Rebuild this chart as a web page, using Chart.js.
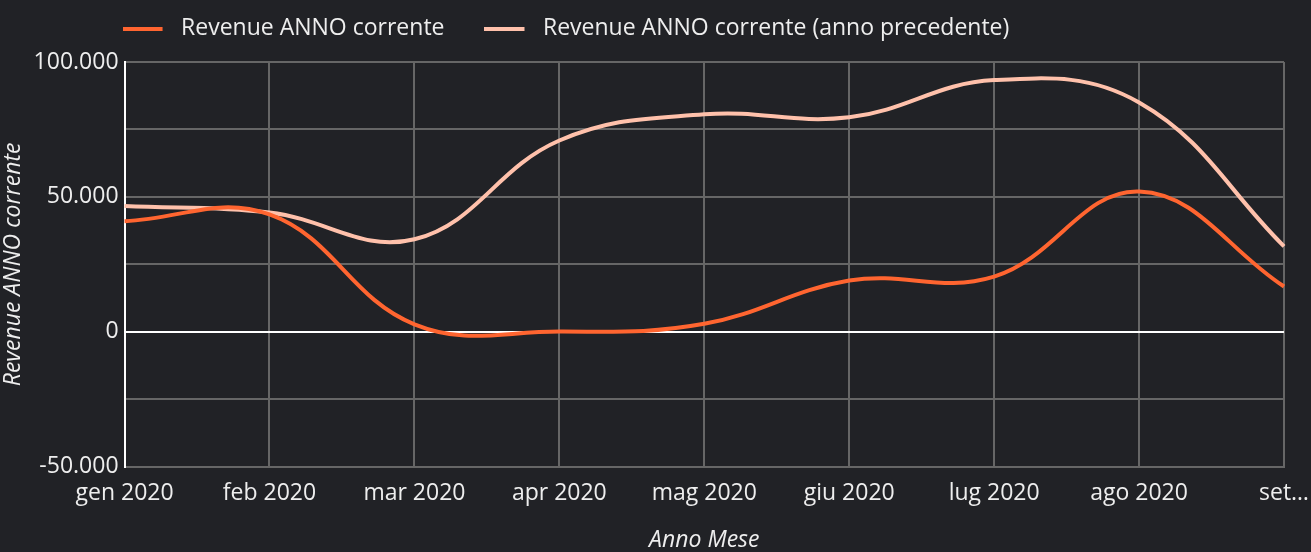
<!DOCTYPE html>
<html>
<head>
<meta charset="utf-8">
<script src="https://cdn.jsdelivr.net/npm/chart.js@4"></script>
<style>
  html, body { margin: 0; padding: 0; background: #212226; }
  #wrap { width: 1311px; height: 552px; position: relative; }
</style>
</head>
<body>
<div id="wrap"><canvas id="c" width="1311" height="552"></canvas></div>
<script>
const months = ["gen 2020", "feb 2020", "mar 2020", "apr 2020", "mag 2020", "giu 2020", "lug 2020", "ago 2020", "set 2020"];
const revenueCurrent = [41000, 43500, 2800, 100, 3000, 19000, 20500, 52000, 16800];
const revenuePrevious = [46600, 44200, 34300, 70900, 80600, 79500, 93300, 85000, 31700];
const seriesNames = ["Revenue ANNO corrente", "Revenue ANNO corrente (anno precedente)"];
const seriesColors = ["#ff6530", "#ffc1ab"];

const FONT = "'Open Sans', 'Noto Sans', sans-serif";
const FS = 23;
const TEXT = "#eeeeee";
const GRID = "#666666";
const LEG_PAD = 40;

function fmt(v) {
  const s = Math.abs(v).toString().replace(/\B(?=(\d{3})+(?!\d))/g, ".");
  return (v < 0 ? "-" : "") + s;
}

function legendLine(color) {
  const c = document.createElement("canvas");
  c.width = 47; c.height = 4;
  const g = c.getContext("2d");
  g.fillStyle = color;
  g.fillRect(0, 0, 40, 4);
  return c;
}

const legendPlace = {
  id: "legendPlace",
  beforeInit(chart) {
    const orig = chart.legend.fit;
    chart.legend.fit = function () {
      orig.call(this);
      this.height = 62;
    };
  },
  afterLayout(chart) {
    const lg = chart.legend;
    lg.left = chart.chartArea.left - 2 - LEG_PAD;
    lg.top = 17 - LEG_PAD;
  }
};

new Chart(document.getElementById("c"), {
  type: "line",
  data: {
    labels: months,
    datasets: [
      { label: seriesNames[0], data: revenueCurrent, borderColor: seriesColors[0], backgroundColor: seriesColors[0], borderWidth: 4, pointRadius: 0, pointStyle: legendLine(seriesColors[0]), tension: 0.4, fill: false },
      { label: seriesNames[1], data: revenuePrevious, borderColor: seriesColors[1], backgroundColor: seriesColors[1], borderWidth: 4, pointRadius: 0, pointStyle: legendLine(seriesColors[1]), tension: 0.4, fill: false }
    ]
  },
  plugins: [legendPlace],
  options: {
    responsive: false,
    animation: false,
    layout: { padding: { left: 0, right: 0, top: 0, bottom: 0 } },
    plugins: {
      legend: {
        position: "top",
        align: "start",
        labels: {
          color: TEXT,
          font: { family: FONT, size: FS },
          usePointStyle: true,
          pointStyleWidth: 47,
          boxHeight: 4,
          padding: LEG_PAD
        }
      },
      tooltip: { enabled: false }
    },
    scales: {
      x: {
        title: { display: true, text: "Anno Mese", color: TEXT, font: { family: FONT, size: FS, style: "italic", lineHeight: 1 }, padding: { top: 8.2, bottom: 0 } },
        grid: { color: GRID, lineWidth: 2, drawTicks: false },
        border: { color: GRID, width: 2 },
        ticks: {
          color: TEXT,
          font: { family: FONT, size: FS, lineHeight: "50px" },
          padding: 2,
          maxRotation: 0,
          autoSkip: false,
          callback: function (v, i) {
            const l = this.getLabelForValue(v);
            return i === months.length - 1 ? l.slice(0, 3) + "\u2026" : l;
          }
        }
      },
      y: {
        min: -50000,
        max: 100000,
        title: { display: true, text: "Revenue ANNO corrente", color: TEXT, font: { family: FONT, size: FS, style: "italic" }, padding: { top: 0, bottom: 0 } },
        grid: {
          color: (ctx) => (ctx.tick && ctx.tick.value === 0 ? "#ffffff" : GRID),
          lineWidth: 2,
          drawTicks: false
        },
        border: { color: "#ffffff", width: 2 },
        ticks: {
          stepSize: 25000,
          color: TEXT,
          font: { family: FONT, size: FS },
          padding: 6,
          callback: (v) => (v % 50000 === 0 ? fmt(v) : "")
        }
      }
    }
  }
});
</script>
</body>
</html>
